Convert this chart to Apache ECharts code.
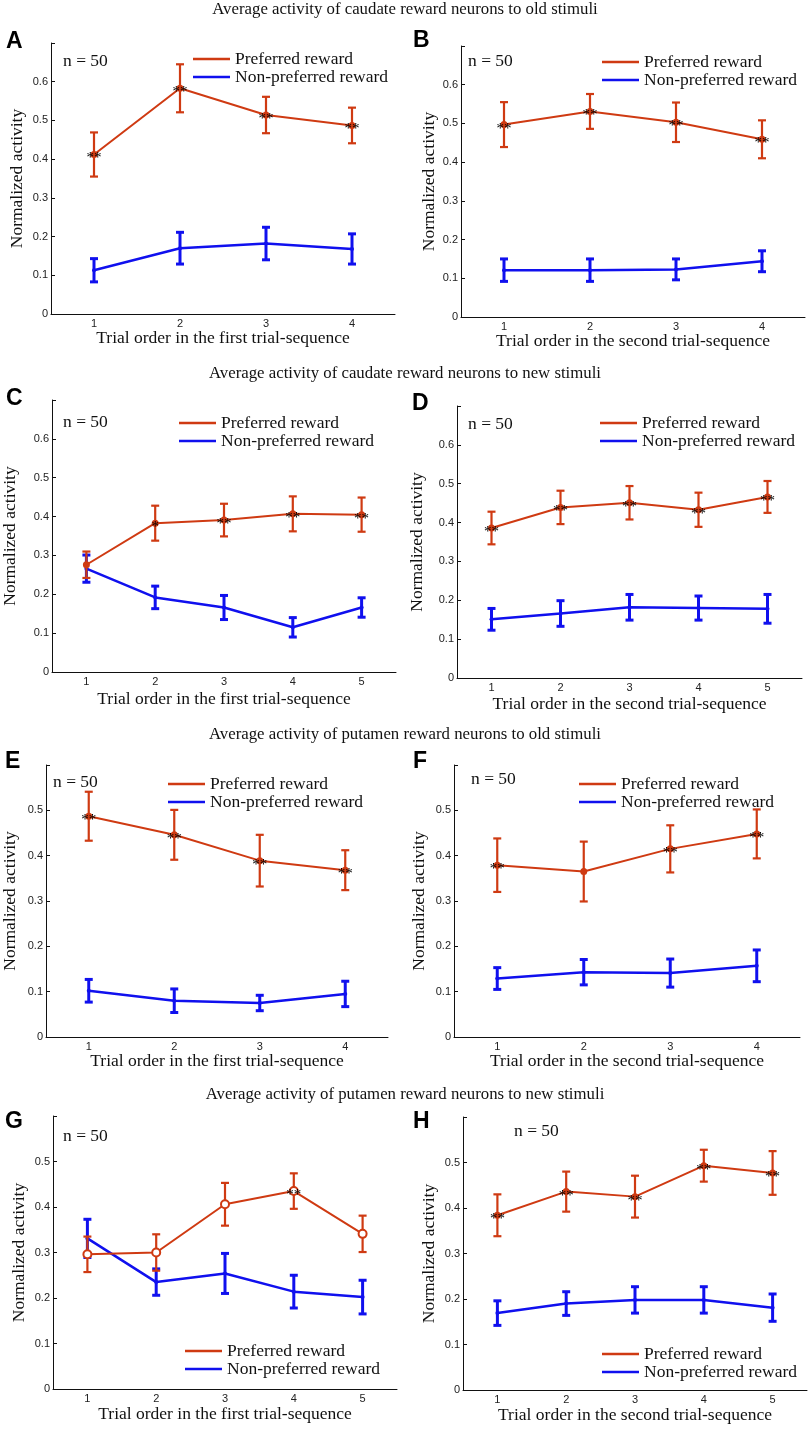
<!DOCTYPE html>
<html>
<head>
<meta charset="utf-8">
<script src="https://cdn.jsdelivr.net/npm/echarts@6/dist/echarts.min.js"></script>
<style>
  html, body { margin: 0; padding: 0; background: #fff; }
  #main { width: 810px; height: 1433px; }
</style>
</head>
<body>
<div id="main"></div>
<script>
// ---- data ----
var trials4 = ['1', '2', '3', '4'];
var trials5 = ['1', '2', '3', '4', '5'];
var headers = [
  'Average activity of caudate reward neurons to old stimuli',
  'Average activity of caudate reward neurons to new stimuli',
  'Average activity of putamen reward neurons to old stimuli',
  'Average activity of putamen reward neurons to new stimuli'
];
var seqFirst = 'Trial order in the first trial-sequence';
var seqSecond = 'Trial order in the second trial-sequence';
var yName = 'Normalized activity';
var nLabel = 'n = 50';

// A: caudate, old stimuli, first sequence
var prefA = [0.412, 0.583, 0.514, 0.487];
var prefErrA = [0.057, 0.062, 0.047, 0.046];
var nonA = [0.113, 0.170, 0.182, 0.168];
var nonErrA = [0.030, 0.041, 0.042, 0.039];
var starsA = ['**', '**', '**', '**'];
// B: caudate, old stimuli, second sequence
var prefB = [0.497, 0.531, 0.503, 0.459];
var prefErrB = [0.058, 0.045, 0.051, 0.049];
var nonB = [0.121, 0.121, 0.123, 0.144];
var nonErrB = [0.029, 0.029, 0.027, 0.027];
var starsB = ['**', '**', '**', '**'];
// C: caudate, new stimuli, first sequence
var prefC = [0.276, 0.383, 0.391, 0.407, 0.405];
var prefErrC = [0.034, 0.045, 0.042, 0.045, 0.044];
var nonC = [0.266, 0.192, 0.166, 0.115, 0.166];
var nonErrC = [0.035, 0.029, 0.031, 0.025, 0.025];
var starsC = ['', '*', '**', '**', '**'];
// D: caudate, new stimuli, second sequence
var prefD = [0.386, 0.439, 0.451, 0.433, 0.466];
var prefErrD = [0.042, 0.043, 0.043, 0.044, 0.041];
var nonD = [0.151, 0.166, 0.182, 0.180, 0.178];
var nonErrD = [0.028, 0.033, 0.033, 0.031, 0.037];
var starsD = ['**', '**', '**', '**', '**'];
// E: putamen, old stimuli, first sequence
var prefE = [0.487, 0.446, 0.389, 0.368];
var prefErrE = [0.054, 0.055, 0.057, 0.044];
var nonE = [0.102, 0.080, 0.075, 0.095];
var nonErrE = [0.025, 0.026, 0.017, 0.028];
var starsE = ['**', '**', '**', '**'];
// F: putamen, old stimuli, second sequence
var prefF = [0.379, 0.365, 0.415, 0.448];
var prefErrF = [0.059, 0.066, 0.052, 0.054];
var nonF = [0.129, 0.143, 0.141, 0.157];
var nonErrF = [0.024, 0.028, 0.031, 0.035];
var starsF = ['**', '', '**', '**'];
// G: putamen, new stimuli, first sequence
var prefG = [0.296, 0.300, 0.406, 0.435, 0.341];
var prefErrG = [0.039, 0.040, 0.047, 0.039, 0.040];
var nonG = [0.331, 0.235, 0.254, 0.214, 0.202];
var nonErrG = [0.042, 0.029, 0.044, 0.036, 0.037];
var starsG = ['', '', '', '**', ''];
// H: putamen, new stimuli, second sequence
var prefH = [0.384, 0.436, 0.425, 0.493, 0.477];
var prefErrH = [0.046, 0.044, 0.046, 0.035, 0.048];
var nonH = [0.169, 0.190, 0.198, 0.198, 0.181];
var nonErrH = [0.027, 0.026, 0.029, 0.029, 0.030];
var starsH = ['**', '**', '**', '**', '**'];

var RED = '#cf3a12';
var BLUE = '#1010ee';
var SERIF = '"Liberation Serif", "Times New Roman", serif';
var SANS = '"Liberation Sans", Arial, sans-serif';

// panel layout (pixels)
var panels = [
  {L: 'A', cats: trials4, p: prefA, pe: prefErrA, n: nonA, ne: nonErrA, s: starsA, x: seqFirst,
   grid: [51, 43, 344, 271], yMax: 0.7, yGap: 25, xGap: 11, letter: [6, 30], nPos: [63, 52], leg: [193, 50]},
  {L: 'B', cats: trials4, p: prefB, pe: prefErrB, n: nonB, ne: nonErrB, s: starsB, x: seqSecond,
   grid: [461, 46, 344, 271], yMax: 0.7, yGap: 23, xGap: 13, letter: [413, 29], nPos: [468, 52], leg: [602, 53]},
  {L: 'C', cats: trials5, p: prefC, pe: prefErrC, n: nonC, ne: nonErrC, s: starsC, x: seqFirst,
   grid: [52, 400, 344, 272], yMax: 0.7, yGap: 33, xGap: 18, letter: [6, 387], nPos: [63, 413], leg: [179, 414]},
  {L: 'D', cats: trials5, p: prefD, pe: prefErrD, n: nonD, ne: nonErrD, s: starsD, x: seqSecond,
   grid: [457, 406, 345, 272], yMax: 0.7, yGap: 31, xGap: 17, letter: [412, 392], nPos: [468, 415], leg: [600, 414]},
  {L: 'E', cats: trials4, p: prefE, pe: prefErrE, n: nonE, ne: nonErrE, s: starsE, x: seqFirst,
   grid: [43, 765, 345, 272], yMax: 0.6, yGap: 27, xGap: 13, letter: [5, 750], nPos: [53, 773], leg: [168, 775]},
  {L: 'F', cats: trials4, p: prefF, pe: prefErrF, n: nonF, ne: nonErrF, s: starsF, x: seqSecond,
   grid: [454, 765, 346, 272], yMax: 0.6, yGap: 26, xGap: 13, letter: [413, 750], nPos: [471, 770], leg: [579, 775]},
  {L: 'G', cats: trials5, p: prefG, pe: prefErrG, n: nonG, ne: nonErrG, s: starsG, x: seqFirst, hollow: true,
   grid: [53, 1116, 344, 273], yMax: 0.6, yGap: 25, xGap: 16, letter: [5, 1110], nPos: [63, 1127], leg: [185, 1342]},
  {L: 'H', cats: trials5, p: prefH, pe: prefErrH, n: nonH, ne: nonErrH, s: starsH, x: seqSecond,
   grid: [463, 1117, 344, 273], yMax: 0.6, yGap: 25, xGap: 16, letter: [413, 1110], nPos: [514, 1122], leg: [602, 1345]}
];
var headerTops = [1, 365, 726, 1086];

function errBar(capW, width) {
  return function (params, api) {
    var x = api.value(0);
    var top = api.coord([x, api.value(2)]);
    var bot = api.coord([x, api.value(1)]);
    var st = { stroke: api.visual('color'), lineWidth: width, fill: null };
    return {
      type: 'group',
      children: [
        { type: 'line', shape: { x1: top[0], y1: top[1], x2: bot[0], y2: bot[1] }, style: st },
        { type: 'line', shape: { x1: top[0] - capW, y1: top[1], x2: top[0] + capW, y2: top[1] }, style: st },
        { type: 'line', shape: { x1: bot[0] - capW, y1: bot[1], x2: bot[0] + capW, y2: bot[1] }, style: st }
      ]
    };
  };
}

function bars(vals, errs) {
  return vals.map(function (v, i) { return [i, v - errs[i], v + errs[i]]; });
}

var grids = [], xAxes = [], yAxes = [], series = [], titles = [], legends = [];

headers.forEach(function (h, i) {
  titles.push({ text: h, left: 'center', top: headerTops[i], padding: 0,
    textStyle: { fontFamily: SERIF, fontSize: 16.8, fontWeight: 'normal', color: '#111' } });
});

panels.forEach(function (pn, k) {
  grids.push({ left: pn.grid[0], top: pn.grid[1], width: pn.grid[2], height: pn.grid[3] });
  xAxes.push({
    gridIndex: k, type: 'category', data: pn.cats, boundaryGap: true,
    name: pn.x, nameLocation: 'middle', nameGap: pn.xGap,
    nameTextStyle: { fontFamily: SERIF, fontSize: 17.5, color: '#111' },
    axisLine: { lineStyle: { color: '#111', width: 1 } },
    axisTick: { alignWithLabel: true, inside: true, length: 4, lineStyle: { color: '#111' } },
    axisLabel: { fontFamily: SANS, fontSize: 11, color: '#222', margin: 4 },
    splitLine: { show: false }
  });
  var yMax = pn.yMax;
  yAxes.push({
    gridIndex: k, type: 'value', min: 0, max: yMax, interval: 0.1,
    name: yName, nameLocation: 'middle', nameGap: pn.yGap,
    nameTextStyle: { fontFamily: SERIF, fontSize: 17.5, color: '#111' },
    axisLine: { show: true, lineStyle: { color: '#111', width: 1 } },
    axisTick: { show: true, inside: true, length: 4, lineStyle: { color: '#111' } },
    axisLabel: {
      fontFamily: SANS, fontSize: 11, color: '#222', margin: 3,
      formatter: function (v) {
        if (Math.abs(v - yMax) < 1e-6) return '';
        return v === 0 ? '0' : v.toFixed(1);
      }
    },
    splitLine: { show: false }
  });
  titles.push({ text: pn.L, left: pn.letter[0], top: pn.letter[1], padding: 0,
    textStyle: { fontFamily: SANS, fontSize: 23, fontWeight: 'bold', color: '#000' } });
  titles.push({ text: nLabel, left: pn.nPos[0], top: pn.nPos[1], padding: 0,
    textStyle: { fontFamily: SERIF, fontSize: 17.5, fontWeight: 'normal', color: '#111' } });
  legends.push({
    data: ['Preferred reward', 'Non-preferred reward'], orient: 'vertical',
    left: pn.leg[0], top: pn.leg[1], padding: 0, itemGap: 0,
    itemWidth: 37, itemHeight: 2.5, icon: 'rect', selectedMode: false,
    textStyle: { fontFamily: SERIF, fontSize: 17.5, color: '#111', lineHeight: 17 }
  });

  var stars = pn.s;
  series.push({
    type: 'custom', name: 'err-non-' + pn.L, xAxisIndex: k, yAxisIndex: k,
    itemStyle: { color: BLUE }, renderItem: errBar(4, 3), data: bars(pn.n, pn.ne), z: 3
  });
  series.push({
    type: 'line', name: 'Non-preferred reward', xAxisIndex: k, yAxisIndex: k,
    data: pn.n, color: BLUE, symbol: 'circle', symbolSize: 4,
    lineStyle: { width: 2.5, color: BLUE }, itemStyle: { color: BLUE }, z: 3
  });
  series.push({
    type: 'custom', name: 'err-pref-' + pn.L, xAxisIndex: k, yAxisIndex: k,
    itemStyle: { color: RED }, renderItem: errBar(4, 2.2), data: bars(pn.p, pn.pe), z: 4
  });
  series.push({
    type: 'line', name: 'Preferred reward', xAxisIndex: k, yAxisIndex: k,
    data: pn.p, color: RED,
    symbol: pn.hollow ? 'emptyCircle' : 'circle', symbolSize: pn.hollow ? 8 : 7,
    lineStyle: { width: 2, color: RED }, itemStyle: { color: RED, borderWidth: 2 }, z: 5,
    label: {
      show: true, position: 'inside', color: '#000', fontFamily: SERIF, fontSize: 15,
      offset: [0, 4],
      formatter: function (p) { return stars[p.dataIndex]; }
    }
  });
});

var chart = echarts.init(document.getElementById('main'), null, { renderer: 'canvas' });
chart.setOption({
  backgroundColor: '#fff',
  animation: false,
  title: titles,
  legend: legends,
  grid: grids,
  xAxis: xAxes,
  yAxis: yAxes,
  series: series
});
</script>
</body>
</html>
